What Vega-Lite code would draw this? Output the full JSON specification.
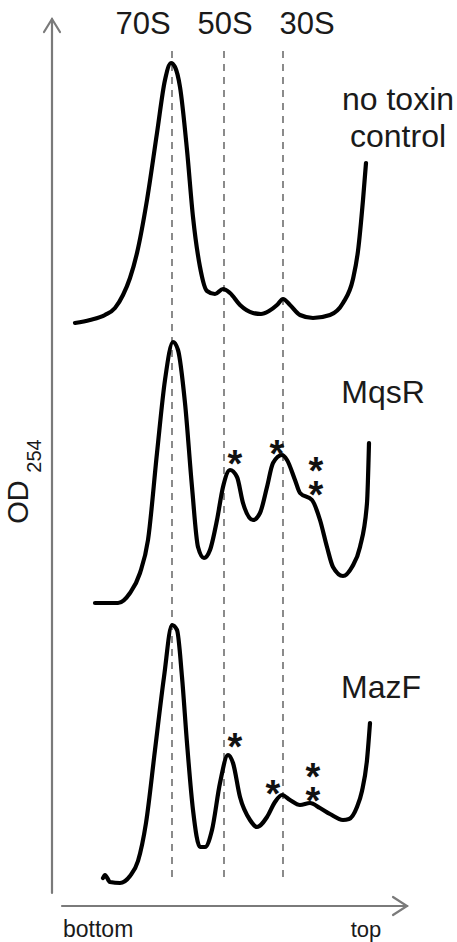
{
  "$schema": "https://vega.github.io/schema/vega-lite/v6.json",
  "width": 457,
  "height": 942,
  "autosize": "none",
  "padding": 0,
  "background": "white",
  "config": {"view": {"stroke": null}},
  "datasets": {
    "traces": [
      {"s":"control","x":1.3,"y":5.83},{"s":"control","x":2.8,"y":5.86},{"s":"control","x":4.3,"y":5.91},{"s":"control","x":5.3,"y":5.98},{"s":"control","x":6.1,"y":6.11},{"s":"control","x":6.8,"y":6.28},{"s":"control","x":7.5,"y":6.53},{"s":"control","x":8.5,"y":7.06},{"s":"control","x":9.5,"y":7.73},{"s":"control","x":10.3,"y":8.26},{"s":"control","x":10.9,"y":8.43},{"s":"control","x":11.3,"y":8.39},{"s":"control","x":11.8,"y":8.19},{"s":"control","x":12.5,"y":7.56},{"s":"control","x":13.1,"y":6.89},{"s":"control","x":13.8,"y":6.39},{"s":"control","x":14.5,"y":6.15},{"s":"control","x":15.3,"y":6.12},{"s":"control","x":16.1,"y":6.17},{"s":"control","x":16.8,"y":6.13},{"s":"control","x":17.8,"y":6.01},{"s":"control","x":19.1,"y":5.93},{"s":"control","x":19.9,"y":5.92},{"s":"control","x":20.7,"y":5.95},{"s":"control","x":21.5,"y":6.01},{"s":"control","x":22.1,"y":6.07},{"s":"control","x":22.8,"y":6.01},{"s":"control","x":23.8,"y":5.91},{"s":"control","x":25.1,"y":5.88},{"s":"control","x":26.8,"y":5.91},{"s":"control","x":28.1,"y":6.03},{"s":"control","x":29.1,"y":6.27},{"s":"control","x":29.6,"y":6.55},{"s":"control","x":30.1,"y":7.06},{"s":"control","x":30.4,"y":7.43},
      {"s":"MqsR","x":3.3,"y":3.03},{"s":"MqsR","x":5.6,"y":3.03},{"s":"MqsR","x":6.8,"y":3.13},{"s":"MqsR","x":7.8,"y":3.33},{"s":"MqsR","x":8.6,"y":3.66},{"s":"MqsR","x":9.5,"y":4.53},{"s":"MqsR","x":10.3,"y":5.26},{"s":"MqsR","x":11.1,"y":5.64},{"s":"MqsR","x":11.6,"y":5.56},{"s":"MqsR","x":12.3,"y":5.03},{"s":"MqsR","x":13.0,"y":4.19},{"s":"MqsR","x":13.6,"y":3.59},{"s":"MqsR","x":14.2,"y":3.48},{"s":"MqsR","x":14.8,"y":3.56},{"s":"MqsR","x":15.5,"y":3.86},{"s":"MqsR","x":16.1,"y":4.19},{"s":"MqsR","x":16.8,"y":4.36},{"s":"MqsR","x":17.5,"y":4.29},{"s":"MqsR","x":18.1,"y":4.03},{"s":"MqsR","x":19.1,"y":3.86},{"s":"MqsR","x":19.8,"y":3.93},{"s":"MqsR","x":20.5,"y":4.19},{"s":"MqsR","x":21.1,"y":4.43},{"s":"MqsR","x":22.0,"y":4.51},{"s":"MqsR","x":22.5,"y":4.46},{"s":"MqsR","x":23.3,"y":4.26},{"s":"MqsR","x":23.8,"y":4.13},{"s":"MqsR","x":25.0,"y":4.06},{"s":"MqsR","x":25.8,"y":3.86},{"s":"MqsR","x":26.5,"y":3.59},{"s":"MqsR","x":27.1,"y":3.39},{"s":"MqsR","x":28.1,"y":3.30},{"s":"MqsR","x":29.0,"y":3.39},{"s":"MqsR","x":29.8,"y":3.59},{"s":"MqsR","x":30.5,"y":4.03},{"s":"MqsR","x":30.7,"y":4.63},
      {"s":"MazF","x":4.1,"y":0.28},{"s":"MazF","x":4.3,"y":0.31},{"s":"MazF","x":4.8,"y":0.24},{"s":"MazF","x":5.8,"y":0.23},{"s":"MazF","x":6.8,"y":0.30},{"s":"MazF","x":7.6,"y":0.45},{"s":"MazF","x":8.4,"y":0.83},{"s":"MazF","x":9.3,"y":1.56},{"s":"MazF","x":10.2,"y":2.29},{"s":"MazF","x":11.0,"y":2.81},{"s":"MazF","x":11.5,"y":2.76},{"s":"MazF","x":12.0,"y":2.29},{"s":"MazF","x":12.5,"y":1.63},{"s":"MazF","x":13.1,"y":0.96},{"s":"MazF","x":13.8,"y":0.59},{"s":"MazF","x":14.3,"y":0.59},{"s":"MazF","x":15.0,"y":0.76},{"s":"MazF","x":15.8,"y":1.23},{"s":"MazF","x":16.6,"y":1.51},{"s":"MazF","x":17.1,"y":1.43},{"s":"MazF","x":17.8,"y":1.09},{"s":"MazF","x":18.8,"y":0.86},{"s":"MazF","x":19.5,"y":0.79},{"s":"MazF","x":20.5,"y":0.89},{"s":"MazF","x":21.3,"y":1.04},{"s":"MazF","x":22.0,"y":1.11},{"s":"MazF","x":22.8,"y":1.06},{"s":"MazF","x":23.8,"y":1.01},{"s":"MazF","x":24.8,"y":1.03},{"s":"MazF","x":25.8,"y":0.98},{"s":"MazF","x":26.8,"y":0.92},{"s":"MazF","x":28.1,"y":0.86},{"s":"MazF","x":28.7,"y":0.87},{"s":"MazF","x":29.5,"y":0.99},{"s":"MazF","x":30.0,"y":1.15},{"s":"MazF","x":30.5,"y":1.46},{"s":"MazF","x":30.8,"y":1.83}
    ],
    "fractions": [
      {"label":"70S","x":11.0,"lx":8.1},
      {"label":"50S","x":16.2,"lx":16.3},
      {"label":"30S","x":22.1,"lx":24.5}
    ],
    "arrows": [
      {"seg":"yaxis","i":0,"x":-1.0,"y":0.13},{"seg":"yaxis","i":1,"x":-1.0,"y":8.87},
      {"seg":"yhead","i":0,"x":-1.8,"y":8.74},{"seg":"yhead","i":1,"x":-1.0,"y":8.87},{"seg":"yhead","i":2,"x":-0.2,"y":8.74},
      {"seg":"xaxis","i":0,"x":0.0,"y":0.0},{"seg":"xaxis","i":1,"x":34.5,"y":0.0},
      {"seg":"xhead","i":0,"x":33.1,"y":0.09},{"seg":"xhead","i":1,"x":34.5,"y":0.0},{"seg":"xhead","i":2,"x":33.1,"y":-0.09}
    ],
    "labels": [
      {"text":"no toxin","x":33.6,"y":8.06},
      {"text":"control","x":33.6,"y":7.69},
      {"text":"MqsR","x":32.1,"y":5.13},
      {"text":"MazF","x":31.9,"y":2.18}
    ],
    "stars": [
      {"s":"MqsR","x":17.3,"y":4.51,"t":"*"},{"s":"MqsR","x":21.5,"y":4.61,"t":"*"},{"s":"MqsR","x":25.4,"y":4.44,"t":"*\n*"},
      {"s":"MazF","x":17.3,"y":1.68,"t":"*"},{"s":"MazF","x":21.1,"y":1.21,"t":"*"},{"s":"MazF","x":25.1,"y":1.38,"t":"*\n*"}
    ]
  },
  "layer": [
    {
      "data": {"name": "fractions"},
      "mark": {"type": "rule", "color": "#6e6e6e", "strokeWidth": 1.6, "strokeDash": [7, 6]},
      "encoding": {
        "x": {"field": "x", "type": "quantitative", "scale": {"domain": [-6.2, 39.5], "nice": false, "zero": false}, "axis": null},
        "y": {"datum": 0.29, "type": "quantitative", "scale": {"domain": [-0.36, 9.06], "nice": false, "zero": false}, "axis": null},
        "y2": {"datum": 8.58}
      }
    },
    {
      "data": {"name": "fractions"},
      "mark": {"type": "text", "font": "Liberation Sans", "fontSize": 31, "color": "#1a1a1a", "baseline": "middle", "align": "center"},
      "encoding": {
        "x": {"field": "lx", "type": "quantitative"},
        "y": {"datum": 8.81, "type": "quantitative"},
        "text": {"field": "label"}
      }
    },
    {
      "data": {"name": "arrows"},
      "mark": {"type": "line", "color": "#7a7a7a", "strokeWidth": 2.2, "strokeCap": "round", "strokeJoin": "miter"},
      "encoding": {
        "x": {"field": "x", "type": "quantitative"},
        "y": {"field": "y", "type": "quantitative"},
        "detail": {"field": "seg"},
        "order": {"field": "i"}
      }
    },
    {
      "data": {"name": "traces"},
      "mark": {"type": "line", "color": "#000000", "strokeWidth": 4.2, "interpolate": "monotone", "strokeCap": "round"},
      "encoding": {
        "x": {"field": "x", "type": "quantitative"},
        "y": {"field": "y", "type": "quantitative"},
        "detail": {"field": "s"}
      }
    },
    {
      "data": {"name": "labels"},
      "mark": {"type": "text", "font": "Liberation Sans", "fontSize": 32, "color": "#1a1a1a", "baseline": "middle", "align": "center"},
      "encoding": {
        "x": {"field": "x", "type": "quantitative"},
        "y": {"field": "y", "type": "quantitative"},
        "text": {"field": "text"}
      }
    },
    {
      "data": {"name": "stars"},
      "mark": {"type": "text", "font": "Liberation Sans", "fontSize": 38, "fontWeight": "bold", "color": "#111111", "baseline": "alphabetic", "align": "center", "dy": 22, "lineBreak": "\n", "lineHeight": 24},
      "encoding": {
        "x": {"field": "x", "type": "quantitative"},
        "y": {"field": "y", "type": "quantitative"},
        "text": {"field": "t"}
      }
    },
    {
      "data": {"values": [{"t": "OD", "x": -4.3, "y": 4.04}]},
      "mark": {"type": "text", "font": "Liberation Sans", "fontSize": 29, "color": "#1a1a1a", "baseline": "middle", "align": "center", "angle": 270},
      "encoding": {
        "x": {"field": "x", "type": "quantitative"},
        "y": {"field": "y", "type": "quantitative"},
        "text": {"field": "t"}
      }
    },
    {
      "data": {"values": [{"t": "254", "x": -2.75, "y": 4.5}]},
      "mark": {"type": "text", "font": "Liberation Sans", "fontSize": 20, "color": "#1a1a1a", "baseline": "middle", "align": "center", "angle": 270},
      "encoding": {
        "x": {"field": "x", "type": "quantitative"},
        "y": {"field": "y", "type": "quantitative"},
        "text": {"field": "t"}
      }
    },
    {
      "data": {"values": [{"t": "bottom", "x": 0.1, "y": -0.24}]},
      "mark": {"type": "text", "font": "Liberation Sans", "fontSize": 23, "color": "#1a1a1a", "baseline": "middle", "align": "left"},
      "encoding": {
        "x": {"field": "x", "type": "quantitative"},
        "y": {"field": "y", "type": "quantitative"},
        "text": {"field": "t"}
      }
    },
    {
      "data": {"values": [{"t": "top", "x": 30.4, "y": -0.24}]},
      "mark": {"type": "text", "font": "Liberation Sans", "fontSize": 22, "color": "#1a1a1a", "baseline": "middle", "align": "center"},
      "encoding": {
        "x": {"field": "x", "type": "quantitative"},
        "y": {"field": "y", "type": "quantitative"},
        "text": {"field": "t"}
      }
    }
  ]
}
